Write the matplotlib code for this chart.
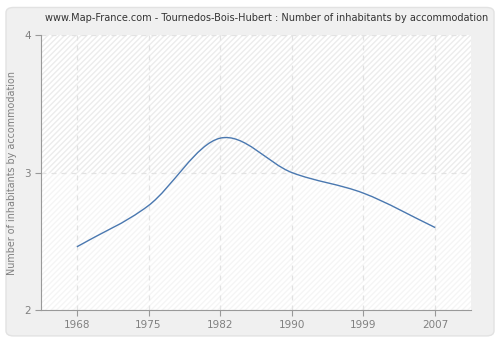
import matplotlib
matplotlib.use("Agg")
import matplotlib.pyplot as plt
from matplotlib.path import Path
from matplotlib.patches import PathPatch, FancyBboxPatch
import numpy as np

# données
years = ["1968", "1975", "1982", "1990", "1999", "2007"]
inhabitants = [2.46, 2.76, 3.25, 3.00, 2.85, 2.60]
yticks = [2, 3, 4]

title = "www.Map-France.com - Tournedos-Bois-Hubert : Number of inhabitants by accommodation"
ylabel = "Number of inhabitants by accommodation"

fig = plt.figure(figsize=(5, 3.4), dpi=100)
fig.patch.set_facecolor("white")
# cadre arrondi du fond
fig.patches.append(FancyBboxPatch((0.012, 0.012), 0.976, 0.966,
                                  boxstyle="round,pad=0,rounding_size=0.015",
                                  transform=fig.transFigure, facecolor="#f0f0f0",
                                  edgecolor="#e2e2e2", linewidth=1, zorder=-10))

ax = fig.add_axes([0.082, 0.088, 0.86, 0.809])
ax.set_zorder(5)
ax.set_facecolor("white")
ax.set_xlim(-0.5, len(years) - 0.5)
ax.set_ylim(2, 4)

# hachures du fond
ax.axhspan(3, 4, facecolor="none", edgecolor="#ececec", hatch="//////", linewidth=0, zorder=0)
ax.axhspan(2, 3, facecolor="none", edgecolor="#f5f5f5", hatch="//////", linewidth=0, zorder=0)

# courbe lissée (Bezier cubique entre les points)
x = np.arange(len(years))
y = np.array(inhabitants)
slopes = np.gradient(y, x)
verts = [(x[0], y[0])]
codes = [Path.MOVETO]
for i in range(len(x) - 1):
    dx = (x[i + 1] - x[i]) / 3
    verts += [(x[i] + dx, y[i] + slopes[i] * dx),
              (x[i + 1] - dx, y[i + 1] - slopes[i + 1] * dx),
              (x[i + 1], y[i + 1])]
    codes += [Path.CURVE4] * 3
ax.add_patch(PathPatch(Path(verts, codes), facecolor="none", edgecolor="#4a78b0",
                       linewidth=1.0, zorder=3))

ax.set_xticks(x)
ax.set_xticklabels(years)
ax.set_yticks(yticks)
ax.grid(True, color="#e2e2e2", linestyle=(0, (4, 4)), linewidth=0.9)
ax.set_axisbelow(True)

for s in ["top", "right"]:
    ax.spines[s].set_visible(False)
for s in ["left", "bottom"]:
    ax.spines[s].set_color("#999999")
ax.tick_params(colors="#999999", labelcolor="#808080", labelsize=7.5, length=4)

ax.set_ylabel(ylabel, color="#808080", fontsize=6.9, labelpad=5)
fig.text(0.533, 0.948, title, ha="center", va="center", fontsize=7.0, color="#333333")

fig.savefig("out.png", dpi=100, facecolor=fig.get_facecolor())
